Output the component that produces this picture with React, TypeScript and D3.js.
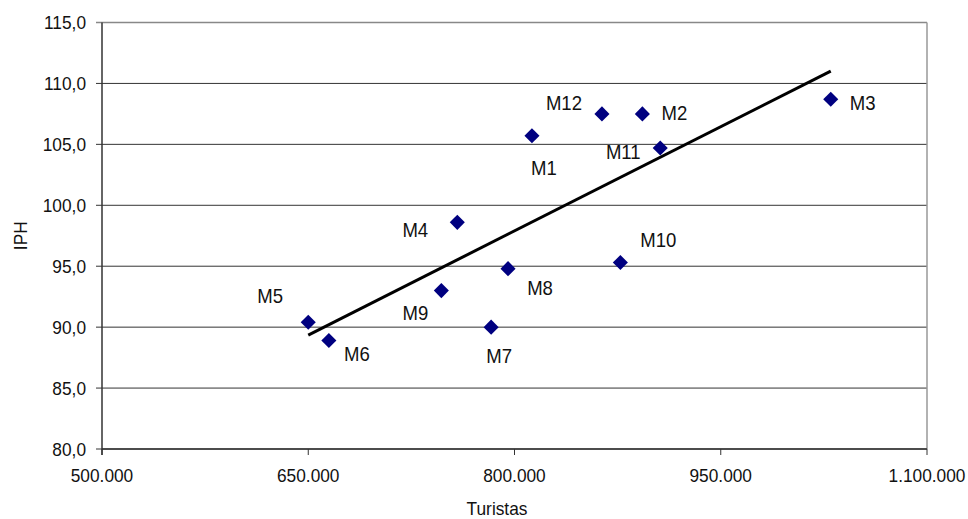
import React from "react";
import * as d3 from "d3";

const labels = ["M1", "M2", "M3", "M4", "M5", "M6", "M7", "M8", "M9", "M10", "M11", "M12"];
const turistas = [812700, 893000, 1030000, 758400, 650000, 665000, 783000, 795300, 746800, 877000, 906000, 863600];
const iph = [105.7, 107.5, 108.7, 98.6, 90.4, 88.9, 90.0, 94.8, 93.0, 95.3, 104.7, 107.5];
const labelDx = [12, 32, 32, -42, -38, 28, 8, 32, -26, 38, -37, -38];
const labelDy = [32, -1, 4, 8, -26, 13, 29, 19, 22, -23, 4, -11];
const xTicks = [500000, 650000, 800000, 950000, 1100000];
const yTicks = [80, 85, 90, 95, 100, 105, 110, 115];

const W = 968, H = 519;
const left = 102, right = 927, top = 22.5, bottom = 449;

const fmtX = (v: number) => d3.format(",")(v).replace(/,/g, ".");
const fmtY = (v: number) => v.toFixed(1).replace(".", ",");

function SText({ x, y, size, anchor, children, rotate }: any) {
  // slightly condensed text: taller glyphs at the same width as the reference
  const sx = 0.92;
  const tf = rotate ? `translate(${x},${y}) rotate(${rotate}) scale(${sx},1)` : `translate(${x},${y}) scale(${sx},1)`;
  return (
    <text transform={tf} dy="0.35em" textAnchor={anchor} fontSize={size} fill="#111">{children}</text>
  );
}

export default function App() {
  const x = d3.scaleLinear().domain([500000, 1100000]).range([left, right]);
  const y = d3.scaleLinear().domain([80, 115]).range([bottom, top]);

  const mx = d3.mean(turistas)!;
  const my = d3.mean(iph)!;
  let sxy = 0, sxx = 0;
  turistas.forEach((t, i) => { sxy += (t - mx) * (iph[i] - my); sxx += (t - mx) ** 2; });
  const slope = sxy / sxx;
  const x0 = d3.min(turistas)!, x1 = d3.max(turistas)!;
  const f = (t: number) => my + slope * (t - mx);
  const line = d3.line<number>().x(d => x(d)).y(d => y(f(d)));

  const font = "'Liberation Sans', Arial, sans-serif";
  const diamond = d3.symbol().type(d3.symbolDiamond2).size(145)();

  return (
    <svg width={W} height={H} style={{ position: "absolute", left: 0, top: 0, background: "#fff" }} fontFamily={font}>
      {yTicks.map(t => (
        <g key={t}>
          <line x1={left - 6} x2={right} y1={y(t)} y2={y(t)} stroke={t === 115 ? "#888" : "#333"} strokeWidth={t === 115 ? 1.5 : 1} />
          <SText x={86} y={y(t)} size={18.8} anchor="end">{fmtY(t)}</SText>
        </g>
      ))}
      <line x1={right} x2={right} y1={top} y2={bottom} stroke="#999" strokeWidth={1.5} />
      <line x1={left} x2={left} y1={top} y2={bottom + 6} stroke="#333" strokeWidth={1.5} />
      <line x1={left} x2={right} y1={bottom} y2={bottom} stroke="#333" strokeWidth={1.5} />
      {xTicks.map(t => (
        <g key={t}>
          <line x1={x(t)} x2={x(t)} y1={bottom} y2={bottom + 6} stroke="#333" />
          <SText x={x(t)} y={475} size={18.8} anchor="middle">{fmtX(t)}</SText>
        </g>
      ))}
      <path d={line([x0, x1])!} stroke="#000" strokeWidth={3} fill="none" />
      {turistas.map((t, i) => (
        <g key={labels[i]}>
          <path d={diamond!} transform={`translate(${x(t)},${y(iph[i])})`} fill="#000080" />
          <SText x={x(t) + labelDx[i]} y={y(iph[i]) + labelDy[i]} size={20.2} anchor="middle">{labels[i]}</SText>
        </g>
      ))}
      <SText x={20} y={(top + bottom) / 2} size={18.8} anchor="middle" rotate={-90}>IPH</SText>
      <SText x={497} y={508} size={18.8} anchor="middle">Turistas</SText>
    </svg>
  );
}
